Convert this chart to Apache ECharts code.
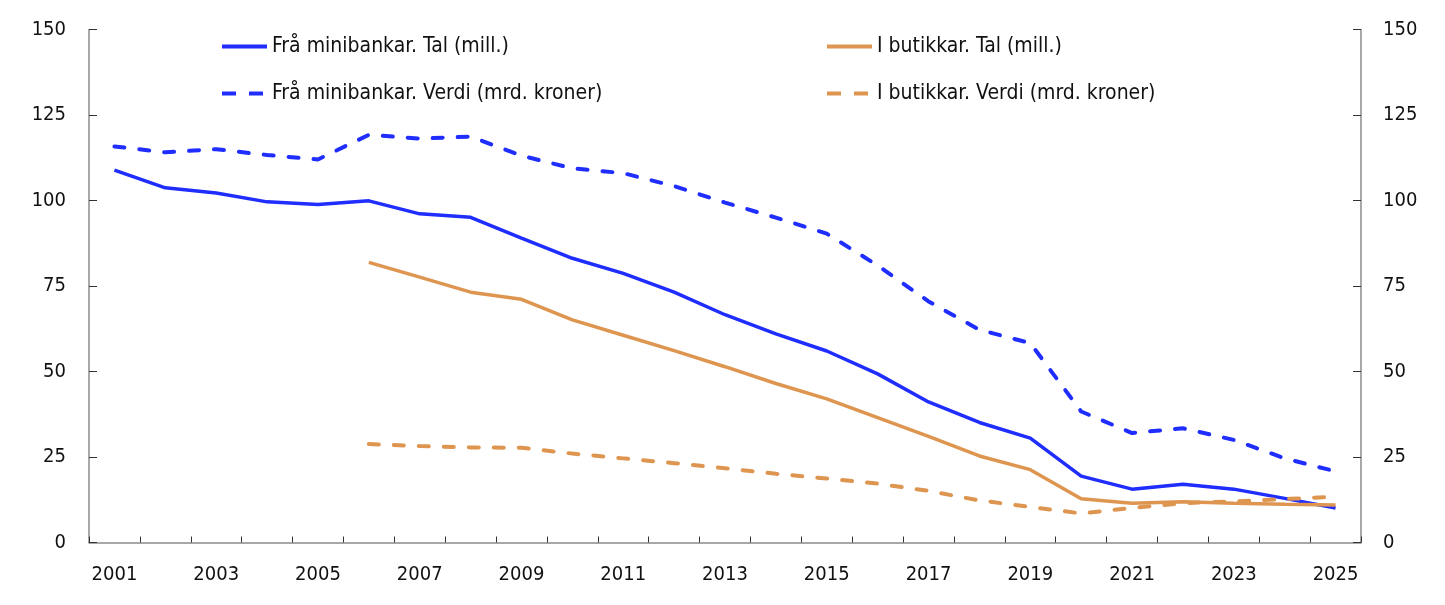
<!DOCTYPE html>
<html><head><meta charset="utf-8">
<script src="https://cdn.jsdelivr.net/npm/echarts@6/dist/echarts.min.js"></script>
<style>html,body{margin:0;padding:0;background:#fff}#c{width:1445px;height:605px}</style>
</head><body><div id="c"></div>
<script>
const years = ['2001','2002','2003','2004','2005','2006','2007','2008','2009','2010','2011','2012','2013','2014','2015','2016','2017','2018','2019','2020','2021','2022','2023','2024','2025'];
const atmCount = [108.9,103.7,102.2,99.6,98.8,99.9,96.1,95.1,89.0,83.1,78.7,73.2,66.6,61.0,56.0,49.3,41.1,35.1,30.5,19.4,15.6,17.0,15.6,12.9,10.1];
const storeCount = [null,null,null,null,null,81.9,77.6,73.2,71.1,65.1,60.6,56.1,51.4,46.5,42.0,36.5,31.0,25.3,21.3,12.8,11.5,11.9,11.5,11.2,11.0];
const atmValue = [115.8,114.1,115.0,113.3,112.0,119.2,118.1,118.7,113.1,109.4,108.0,104.2,99.4,95.0,90.3,81.0,70.5,62.2,58.3,38.3,32.0,33.4,30.0,24.6,20.8];
const storeValue = [null,null,null,null,null,28.8,28.2,27.8,27.7,26.0,24.6,23.2,21.7,20.1,18.7,17.2,15.1,12.3,10.4,8.5,10.1,11.5,12.0,12.7,13.4];
const yTicks = [0,25,50,75,100,125,150];

const BLUE = '#1f2dff', ORANGE = '#dd9550';
const FONT = '"DejaVu Sans Condensed", "Liberation Sans", sans-serif';
const FS = 20;
const chart = echarts.init(document.getElementById('c'));
const dash = {type:[10,15], cap:'round'};
const legendDash = {width:4, type:[14,13], cap:'butt'};
const yAxisBase = {
  type:'value', min:yTicks[0], max:yTicks[yTicks.length-1], interval:25,
  axisLine:{show:true, lineStyle:{color:'#8c8c8c', width:1.5}},
  axisTick:{show:true, inside:true, length:8, lineStyle:{color:'#333', width:1}},
  splitLine:{show:false},
  axisLabel:{color:'#111', fontFamily:FONT, fontSize:FS}
};
const legendBase = {
  top:31, orient:'vertical', itemGap:26, itemWidth:45, itemHeight:14,
  itemStyle:{opacity:0},
  lineStyle:{width:4},
  textStyle:{fontFamily:FONT, fontSize:21, lineHeight:21, color:'#111'}
};
chart.setOption({
  animation:false,
  grid:{left:89, right:84, top:29.5, bottom:62.5},
  legend:[
    Object.assign({left:215, data:['Frå minibankar. Tal (mill.)',{name:'Frå minibankar. Verdi (mrd. kroner)', lineStyle:legendDash}]}, legendBase),
    Object.assign({left:820, data:['I butikkar. Tal (mill.)',{name:'I butikkar. Verdi (mrd. kroner)', lineStyle:legendDash}]}, legendBase)
  ],
  xAxis:{
    type:'category', data:years, boundaryGap:true,
    axisLine:{lineStyle:{color:'#8c8c8c', width:1.5}},
    axisTick:{show:true, inside:true, length:6, interval:0, lineStyle:{color:'#333'}},
    axisLabel:{interval:1, color:'#111', fontFamily:FONT, fontSize:FS, margin:22}
  },
  yAxis:[
    Object.assign({}, yAxisBase, {position:'left', axisLabel:Object.assign({}, yAxisBase.axisLabel, {margin:23})}),
    Object.assign({}, yAxisBase, {position:'right', axisLabel:Object.assign({}, yAxisBase.axisLabel, {margin:22})})
  ],
  series:[
    {name:'Frå minibankar. Tal (mill.)', type:'line', data:atmCount, symbol:'none', lineStyle:{color:BLUE, width:3.5}, itemStyle:{color:BLUE}},
    {name:'I butikkar. Tal (mill.)', type:'line', data:storeCount, symbol:'none', lineStyle:{color:ORANGE, width:3.5}, itemStyle:{color:ORANGE}},
    {name:'Frå minibankar. Verdi (mrd. kroner)', type:'line', data:atmValue, symbol:'none', lineStyle:Object.assign({color:BLUE, width:4}, dash), itemStyle:{color:BLUE}},
    {name:'I butikkar. Verdi (mrd. kroner)', type:'line', data:storeValue, symbol:'none', lineStyle:Object.assign({color:ORANGE, width:4}, dash), itemStyle:{color:ORANGE}}
  ]
});
</script></body></html>
